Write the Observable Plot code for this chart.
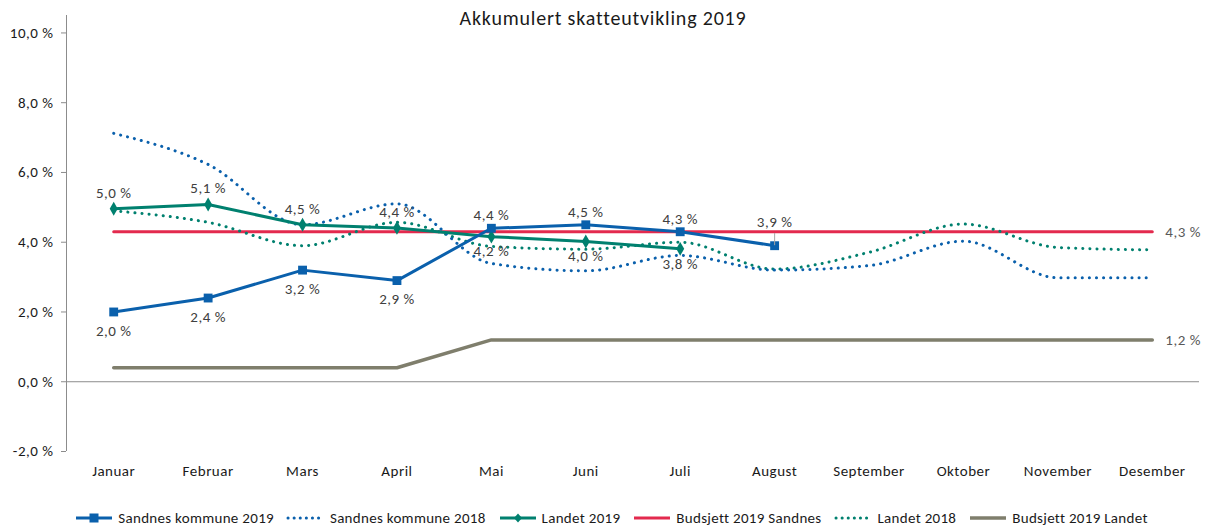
<!DOCTYPE html>
<html>
<head>
<meta charset="utf-8">
<script src="https://cdn.jsdelivr.net/npm/d3@7"></script>
<script src="https://cdn.jsdelivr.net/npm/@observablehq/plot@0.6"></script>
<style>
  html, body { margin: 0; padding: 0; background: #fff; }
  body { width: 1206px; height: 528px; overflow: hidden; position: relative; font-family: Carlito, Calibri, Lato, "Open Sans", sans-serif; }
  #title { position: absolute; top: 5px; left: 0; width: 1206px; text-align: center; font-size: 20px; letter-spacing: 0.8px; color: #1a1a1a; line-height: 26px; }
  #chart { position: absolute; top: 0; left: 0; }
  #chart svg text { letter-spacing: 0.5px; }
  #legend { position: absolute; top: 508px; left: 8px; width: 1206px; display: flex; justify-content: center; gap: 12px; font-size: 15px; letter-spacing: 0.3px; color: #1a1a1a; line-height: 20px; }
  #legend .item { display: flex; align-items: center; gap: 4px; }
</style>
</head>
<body>
<div id="chart"></div>
<div id="title">Akkumulert skatteutvikling 2019</div>
<div id="legend"></div>
<script>
const months = ["Januar","Februar","Mars","April","Mai","Juni","Juli","August","September","Oktober","November","Desember"];
const sandnes2019 = [2.0, 2.4, 3.2, 2.9, 4.4, 4.5, 4.3, 3.9];
const sandnes2018 = [7.12, 6.23, 4.5, 5.1, 3.39, 3.18, 3.62, 3.2, 3.33, 4.03, 2.98, 2.98];
const landet2019 = [4.96, 5.08, 4.5, 4.41, 4.16, 4.02, 3.81];
const landet2018 = [4.9, 4.57, 3.9, 4.57, 3.88, 3.8, 4.0, 3.23, 3.71, 4.52, 3.85, 3.78];
const budsjettSandnes = [4.3, 4.3, 4.3, 4.3, 4.3, 4.3, 4.3, 4.3, 4.3, 4.3, 4.3, 4.3];
const budsjettLandet = [0.4, 0.4, 0.4, 0.4, 1.2, 1.2, 1.2, 1.2, 1.2, 1.2, 1.2, 1.2];
const yTicks = [-2, 0, 2, 4, 6, 8, 10];
const seriesNames = ["Sandnes kommune 2019","Sandnes kommune 2018","Landet 2019","Budsjett 2019 Sandnes","Landet 2018","Budsjett 2019 Landet"];

const C = {
  blue: "#0A60AC",
  teal: "#00806F",
  red: "#E32A4E",
  gray: "#7F7E6C",
  axis: "#8C8C8C",
  label: "#404040"
};

const fmt = v => v.toFixed(1).replace(".", ",") + " %";
const toRows = arr => arr.map((v, i) => ({i, v}));

const S19 = toRows(sandnes2019), S18 = toRows(sandnes2018), L19 = toRows(landet2019),
      L18 = toRows(landet2018), BS = toRows(budsjettSandnes), BL = toRows(budsjettLandet);

const dotted = {strokeWidth: 3, strokeDasharray: "0.1,7", strokeLinecap: "round", curve: "monotone-x"};
const FS = 15;

const plot = Plot.plot({
  width: 1206,
  height: 505,
  marginLeft: 66,
  marginRight: 7,
  marginTop: 15,
  marginBottom: 54,
  style: {fontFamily: "Carlito, Calibri, Lato, 'Open Sans', sans-serif", fontSize: FS + "px", background: "#fff"},
  x: {type: "linear", domain: [-0.5, 11.5]},
  y: {domain: [-2, 10.5]},
  marks: [
    Plot.ruleX([-0.5], {y1: -2, y2: 10.5, stroke: C.axis, strokeWidth: 1}),
    Plot.ruleY([0], {x1: -0.5, x2: 11.5, stroke: C.axis, strokeWidth: 1}),
    Plot.axisY({ticks: yTicks, tickFormat: fmt, tickSize: 5, tickPadding: 8, stroke: C.axis, fill: "#1a1a1a", label: null, fontSize: FS}),
    Plot.axisX({ticks: d3.range(12), tickFormat: i => months[i], tickSize: 0, tickPadding: 14, label: null, fill: "#1a1a1a", fontSize: FS}),
    Plot.line(BL, {x: "i", y: "v", stroke: C.gray, strokeWidth: 3.5}),
    Plot.line(BS, {x: "i", y: "v", stroke: C.red, strokeWidth: 3}),
    Plot.line(L18, {x: "i", y: "v", stroke: C.teal, ...dotted}),
    Plot.line(S18, {x: "i", y: "v", stroke: C.blue, ...dotted}),
    Plot.line(L19, {x: "i", y: "v", stroke: C.teal, strokeWidth: 3}),
    Plot.dot(L19, {x: "i", y: "v", symbol: "diamond", r: 4.2, fill: C.teal, stroke: null}),
    Plot.line(S19, {x: "i", y: "v", stroke: C.blue, strokeWidth: 3}),
    Plot.dot(S19, {x: "i", y: "v", symbol: "square", r: 5, fill: C.blue, stroke: null}),
    // leader line for August label
    Plot.ruleX(S19.filter(d => d.i === 7), {x: "i", y1: "v", y2: d => d.v + 0.35, stroke: "#A6A6A6", strokeWidth: 1}),
    Plot.text(S19.filter(d => d.i < 4), {x: "i", y: "v", text: d => fmt(d.v), dy: 19, fill: C.label, fontSize: FS}),
    Plot.text(S19.filter(d => d.i >= 4 && d.i < 7), {x: "i", y: "v", text: d => fmt(d.v), dy: -13, fill: C.label, fontSize: FS}),
    Plot.text(S19.filter(d => d.i === 7), {x: "i", y: "v", text: d => fmt(d.v), dy: -24, fill: C.label, fontSize: FS}),
    Plot.text(L19.filter(d => d.i < 4), {x: "i", y: "v", text: d => fmt(d.v), dy: -16, fill: C.label, fontSize: FS}),
    Plot.text(L19.filter(d => d.i >= 4), {x: "i", y: "v", text: d => fmt(d.v), dy: 15, fill: C.label, fontSize: FS}),
    Plot.text(BS.filter(d => d.i === 11), {x: "i", y: "v", text: d => fmt(d.v), dx: 13, textAnchor: "start", fill: "#595959", fontSize: FS}),
    Plot.text(BL.filter(d => d.i === 11), {x: "i", y: "v", text: d => fmt(d.v), dx: 13, textAnchor: "start", fill: "#595959", fontSize: FS})
  ]
});
document.getElementById("chart").appendChild(plot);

// Legend
const swatches = [
  {color: C.blue, dash: null, marker: "square", w: 3},
  {color: C.blue, dash: "0.1,6", marker: null, w: 3},
  {color: C.teal, dash: null, marker: "diamond", w: 3},
  {color: C.red, dash: null, marker: null, w: 3},
  {color: C.teal, dash: "0.1,6", marker: null, w: 3},
  {color: C.gray, dash: null, marker: null, w: 3.5}
];
const legend = document.getElementById("legend");
seriesNames.forEach((name, k) => {
  const s = swatches[k];
  const item = document.createElement("div");
  item.className = "item";
  let svg = `<svg width="40" height="12" viewBox="0 0 40 12">` +
    `<line x1="2" x2="38" y1="6" y2="6" stroke="${s.color}" stroke-width="${s.w}" ${s.dash ? `stroke-dasharray="${s.dash}" stroke-linecap="round"` : ""}/>`;
  if (s.marker === "square") svg += `<rect x="15.5" y="1.5" width="9" height="9" fill="${s.color}"/>`;
  if (s.marker === "diamond") svg += `<path d="M20 1.5 L24 6 L20 10.5 L16 6 Z" fill="${s.color}"/>`;
  svg += `</svg>`;
  item.innerHTML = svg + `<span>${name}</span>`;
  legend.appendChild(item);
});
</script>
</body>
</html>
